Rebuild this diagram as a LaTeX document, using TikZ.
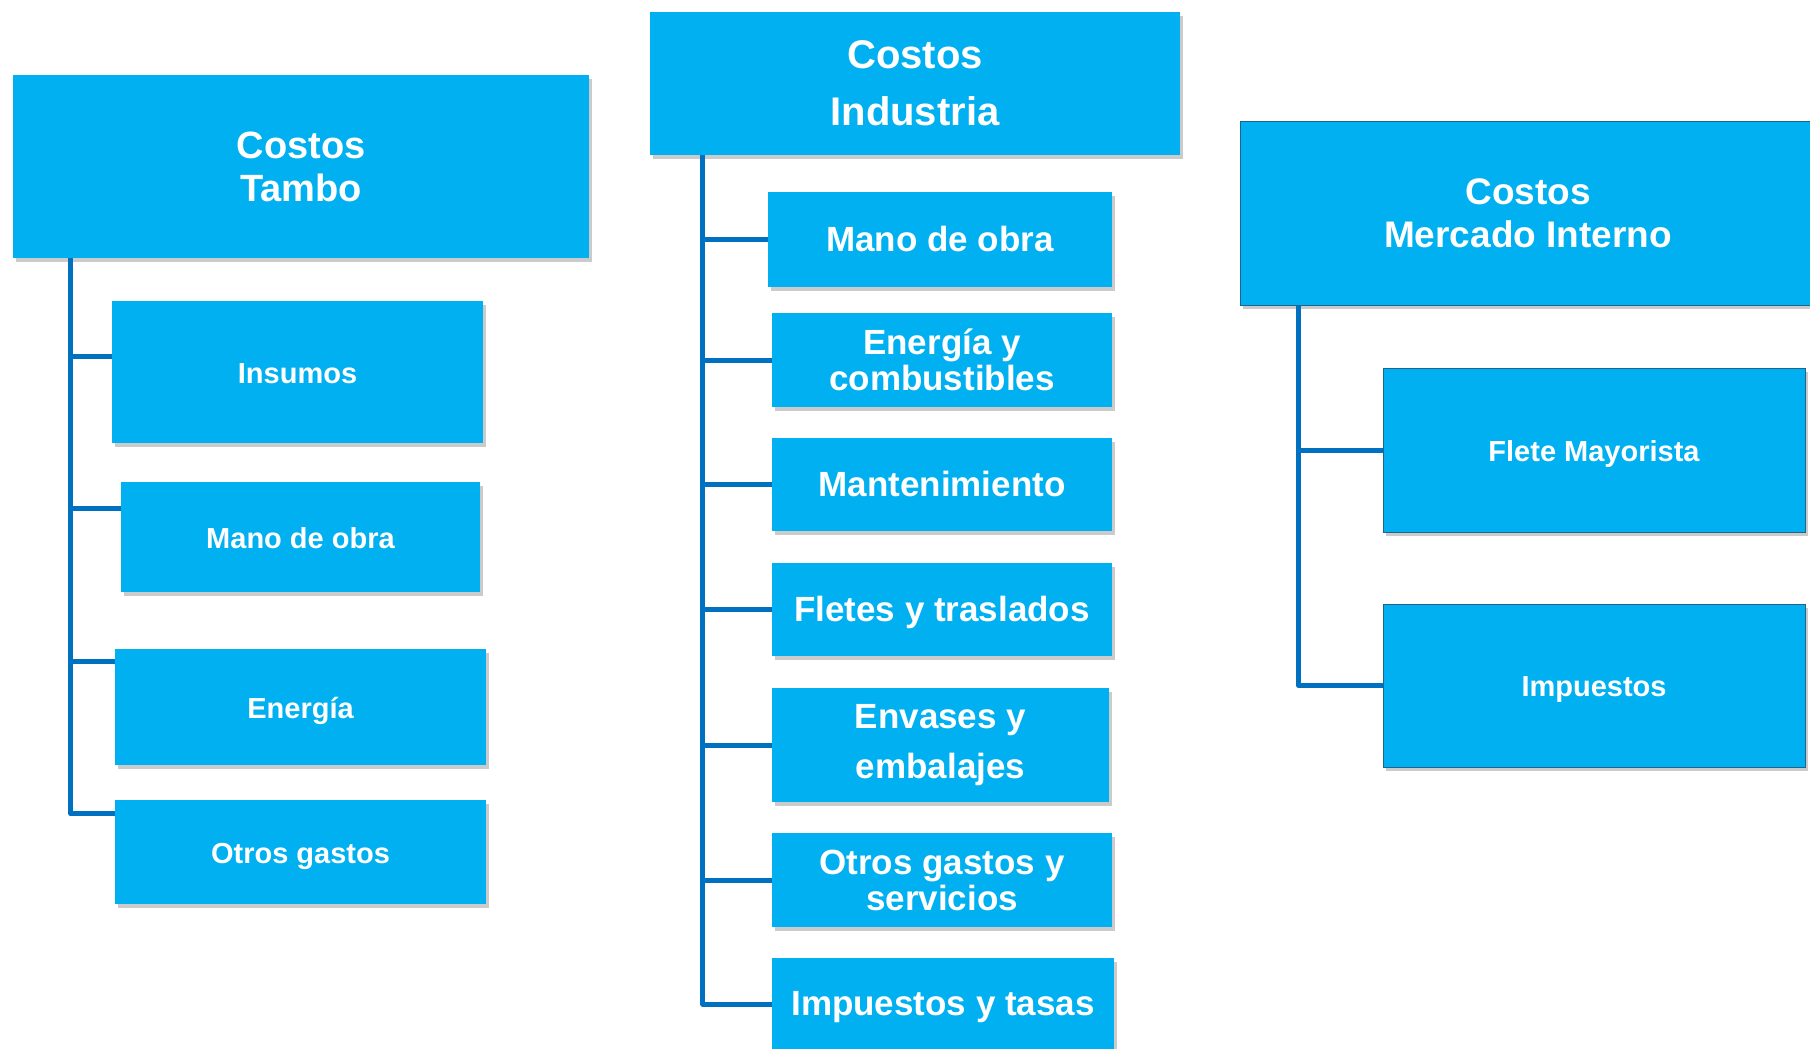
\documentclass[tikz,border=0pt]{standalone}
\usepackage{fontspec}
\setmainfont{Liberation Sans}
\usetikzlibrary{calc}
\usetikzlibrary{positioning}
\usetikzlibrary{shadows}
\definecolor{boxblue}{RGB}{0,176,240}
\definecolor{linkblue}{RGB}{0,112,192}
\definecolor{rimblue}{RGB}{30,100,140}
\tikzstyle{costbox}=[%
  fill=boxblue,
  text=white,
  align=center,
  inner sep=0pt,
  drop shadow={shadow xshift=3pt, shadow yshift=-4pt, fill=black!45, opacity=0.45}
]
\tikzstyle{rimmed}=[draw=rimblue, line width=1pt]
\tikzstyle{link}=[draw=linkblue, line width=5pt, line join=round]
\tikzset{fs/.style 2 args={font=\bfseries\fontsize{#1}{#2}\selectfont}}
\tikzset{onesmall/.style={text height=26pt, text depth=4pt}}
\tikzset{onelarge/.style={text height=30pt, text depth=7pt}}

\begin{document}
\begin{tikzpicture}[x=1pt, y=-1pt]
  \useasboundingbox (0,0) rectangle (1810,1049);
  % Tambo
  \node[costbox, fs={38}{43}, minimum width=576pt, minimum height=183pt] (tambo) at (301,166.5) {Costos\\Tambo};
  \node[costbox, onesmall, fs={29}{34}, minimum width=371pt, minimum height=142pt] (tins) at (297.5,372) {Insumos};
  \node[costbox, onesmall, fs={29}{34}, minimum width=359pt, minimum height=110pt] (tmano) at (300.5,537) {Mano de obra};
  \node[costbox, onesmall, fs={29}{34}, minimum width=371pt, minimum height=116pt] (tener) at (300.5,707) {Energía};
  \node[costbox, onesmall, fs={29}{34}, minimum width=371pt, minimum height=104pt] (totros) at (300.5,852) {Otros gastos};
  % Industria
  \node[costbox, fs={40}{57}, minimum width=530pt, minimum height=143pt] (indus) at (915,83.5) {Costos\\Industria};
  \node[costbox, onelarge, fs={35}{40}, minimum width=344pt, minimum height=95pt] (imano) at (940,239.5) {Mano de obra};
  \node[costbox, fs={35}{36}, minimum width=340pt, minimum height=94pt] (iener) at (942,360) {Energía y\\combustibles};
  \node[costbox, onelarge, fs={35}{40}, minimum width=340pt, minimum height=93pt] (imant) at (942,484.5) {Mantenimiento};
  \node[costbox, onelarge, fs={35}{40}, minimum width=340pt, minimum height=93pt] (iflet) at (942,609.5) {Fletes y traslados};
  \node[costbox, fs={35}{50}, minimum width=337pt, minimum height=114pt] (ienva) at (940.5,745) {Envases y\\embalajes};
  \node[costbox, fs={35}{36}, minimum width=340pt, minimum height=94pt] (iotro) at (942,880) {Otros gastos y\\servicios};
  \node[costbox, onelarge, fs={35}{40}, minimum width=342pt, minimum height=92pt] (iimp) at (943,1004) {Impuestos y tasas};
  % Mercado Interno
  \node[costbox, rimmed, fs={37}{43}, minimum width=576pt, minimum height=184pt] (merc) at (1528,213) {Costos\\Mercado Interno};
  \node[costbox, rimmed, onesmall, fs={29}{34}, minimum width=422pt, minimum height=164pt] (mflete) at (1594,450) {Flete Mayorista};
  \node[costbox, rimmed, onesmall, fs={29}{34}, minimum width=422pt, minimum height=163pt] (mimp) at (1594,685.5) {Impuestos};

  % trunks and branches
  \coordinate (ttrunk) at ([xshift=58pt]tambo.south west);
  \coordinate (tb1) at ($(tins.north west)!0.39!(tins.south west)$);
  \coordinate (tb2) at ($(tmano.north west)!0.245!(tmano.south west)$);
  \coordinate (tb3) at ($(tener.north west)!0.11!(tener.south west)$);
  \coordinate (tb4) at ($(totros.north west)!0.135!(totros.south west)$);
  \draw[link] (ttrunk) |- (tb4);
  \foreach \b in {tb1,tb2,tb3} {%
    \draw[link] (\b -| ttrunk) -- (\b);
  }

  \coordinate (itrunk) at ([xshift=53pt]indus.south west);
  \draw[link] (itrunk) |- (iimp.west);
  \foreach \n in {imano,iener,imant,iflet,ienva,iotro} {%
    \draw[link] (\n.west -| itrunk) -- (\n.west);
  }

  \coordinate (mtrunk) at ([xshift=59pt]merc.south west);
  \draw[link] (mtrunk) |- (mimp.west);
  \draw[link] (mflete.west -| mtrunk) -- (mflete.west);
\end{tikzpicture}
\end{document}
